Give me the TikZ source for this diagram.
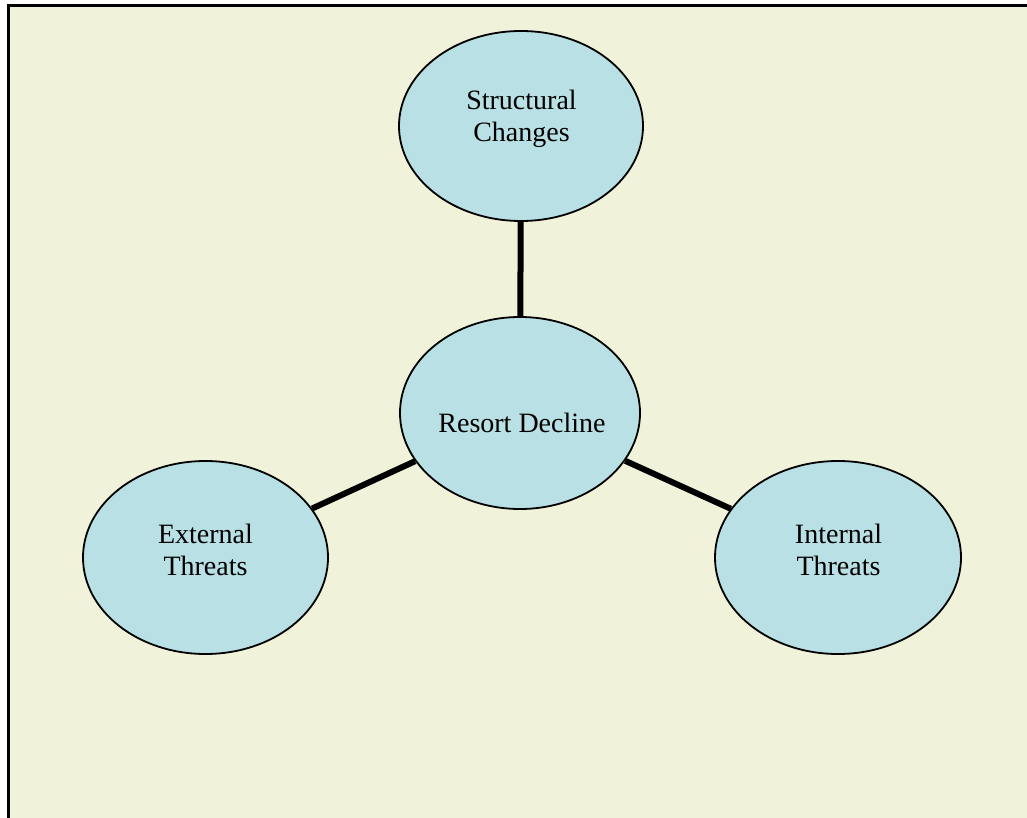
\documentclass[tikz,border=0pt]{standalone}
\usepackage{fontspec}
\setmainfont{Liberation Serif}
\usetikzlibrary{shapes.geometric}
\definecolor{bgbeige}{RGB}{240,242,218}
\definecolor{bubble}{RGB}{185,224,228}
\tikzset{
  bubblenode/.style={ellipse, draw=black, line width=1.8pt, fill=bubble, inner sep=0pt},
  txt/.style={font=\fontsize{28}{32}\selectfont, align=center, anchor=base, inner sep=0pt},
  link/.style={draw=black, line width=6pt}
}
\begin{document}
\begin{tikzpicture}[x=1pt,y=-1pt]
\useasboundingbox (0,0) rectangle (1027,818);
\fill[white] (0,0) rectangle (1027,818);
\fill[bgbeige] (8,6) rectangle (1027,818);
\draw[line width=3pt] (8,818) -- (8,6) -- (1027,6);
% ellipses
\node[bubblenode, minimum width=244pt, minimum height=190pt] (sc) at (521,126) {};
\node[bubblenode, minimum width=240pt, minimum height=192pt] (rd) at (520,413) {};
\node[bubblenode, minimum width=245pt, minimum height=193pt] (et) at (205.5,557.5) {};
\node[bubblenode, minimum width=246pt, minimum height=193pt] (it) at (838,557.5) {};
% connectors
\draw[link] (rd) -- (sc);
\draw[link] (rd) -- (et);
\draw[link] (rd) -- (it);
% texts
\node[txt] (tsc) at (521.5,142) {Structural\\Changes};
\node[txt] (trd) at (522,432) {Resort Decline};
\node[txt] (tet) at (205.5,575) {External\\Threats};
\node[txt] (tit) at (838.5,575) {Internal\\Threats};
\end{tikzpicture}
\end{document}
